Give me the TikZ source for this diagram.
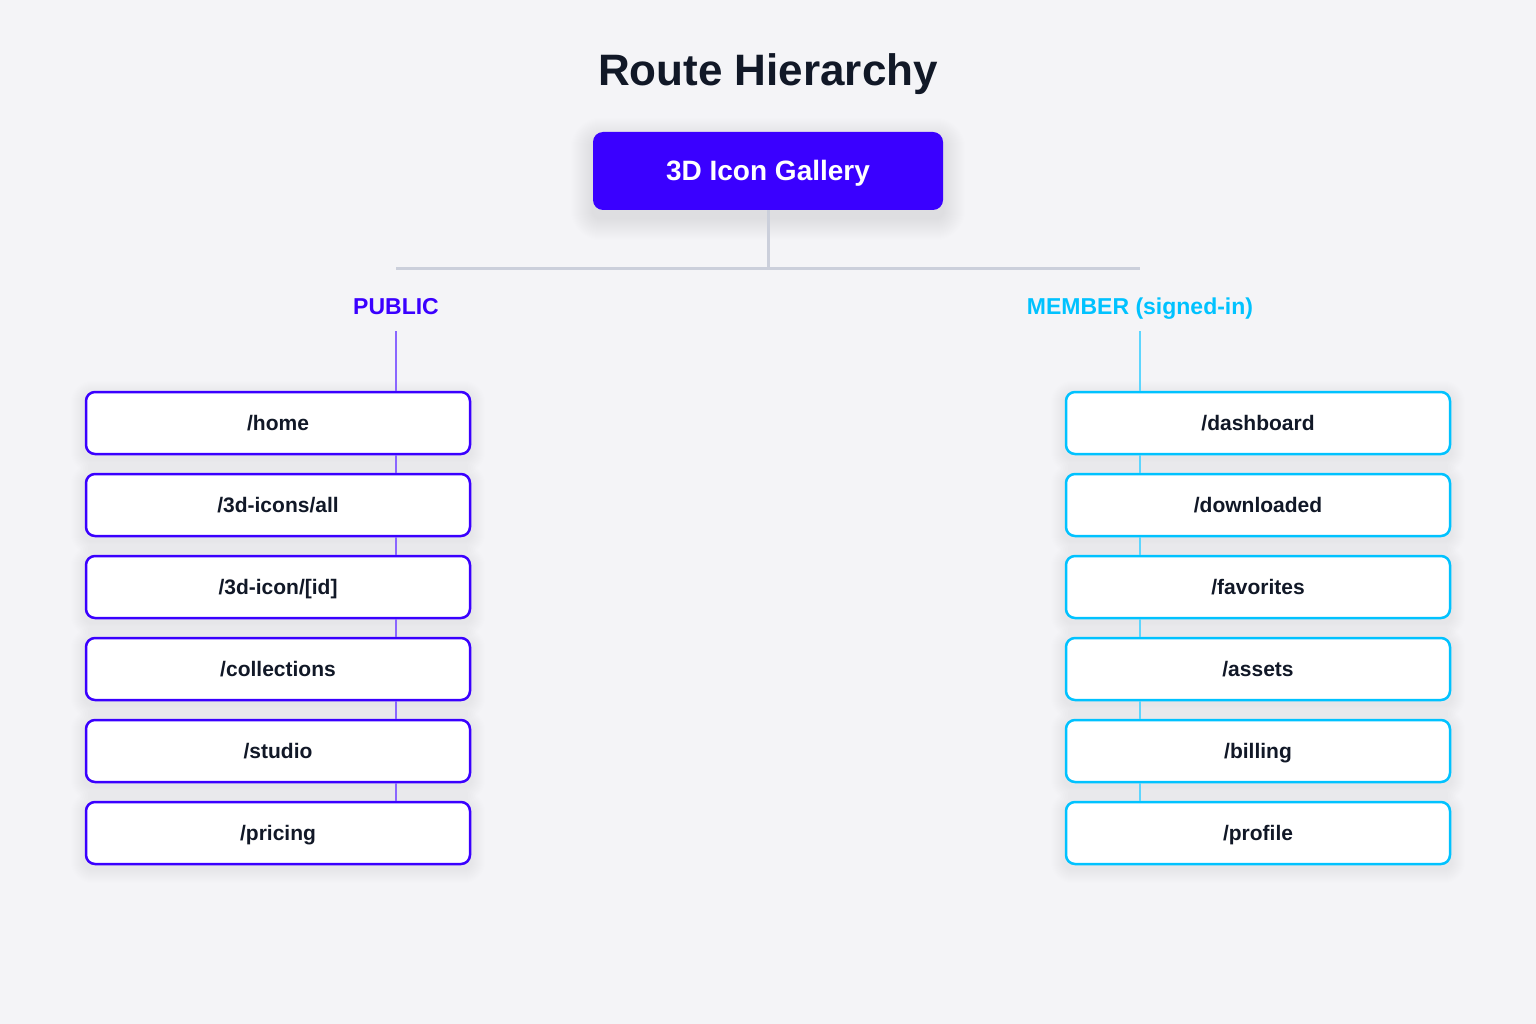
\documentclass[tikz,border=0pt]{standalone}
\usepackage{fontspec}
\setmainfont{Liberation Sans}
\usetikzlibrary{backgrounds}
\pgfdeclarelayer{bottom}
\pgfsetlayers{bottom,background,main}
\definecolor{bgc}{HTML}{F4F4F7}
\definecolor{pub}{HTML}{3A00FF}
\definecolor{publ}{HTML}{8A66FF}
\definecolor{mem}{HTML}{00C2FF}
\definecolor{meml}{HTML}{5CD6FF}
\definecolor{ink}{HTML}{111827}
\definecolor{trunk}{HTML}{CBCFDB}
\tikzset{
  x=1pt, y=1pt,
  rootbox/.style={fill=pub, rounded corners=10pt, minimum width=350pt, minimum height=78pt,
    text=white, font=\bfseries\fontsize{28}{32}\selectfont, text height=25.3pt, text depth=5.9pt},
  route/.style={fill=white, draw=#1, line width=2.5pt, rounded corners=9pt,
    minimum width=384pt, minimum height=62pt, text=ink, font=\bfseries\fontsize{21}{25}\selectfont,
    text height=19pt, text depth=4.45pt},
  grouplabel/.style={text=#1, font=\bfseries\fontsize{23}{27}\selectfont, text height=20.8pt, text depth=4.9pt},
  trunkline/.style={draw=trunk, line width=3pt},
  link/.style={draw=#1, line width=2pt},
  shadowlayer/.style={fill=black, fill opacity=0.0045, draw=none},
}
\newcommand{\softshadow}[3]{% node, steps, yshift
  \foreach \k in {1,...,#2}{
    \fill[shadowlayer, rounded corners={8pt+\k pt}]
      ([xshift=-\k pt, yshift={-\k pt-#3}]#1.south west) rectangle ([xshift=\k pt, yshift={\k pt-#3}]#1.north east);
  }
}
\begin{document}
\begin{tikzpicture}
\begin{pgfonlayer}{bottom}
\fill[bgc] (0,0) rectangle (1536,-1024);
\end{pgfonlayer}
\useasboundingbox (0,0) rectangle (1536,-1024);

\node[text=ink, font=\bfseries\fontsize{44}{52}\selectfont, text height=39.8pt, text depth=9.3pt] (title) at (768,-70) {Route Hierarchy};

\node[rootbox] (root) at (768,-171) {3D Icon Gallery};

\coordinate (j) at (768,-269);
\coordinate (jl) at (396,-269);
\coordinate (jr) at (1140,-269);

\node[grouplabel=pub] (public) at (396,-307) {PUBLIC};
\node[grouplabel=mem] (member) at (1140,-307) {MEMBER (signed-in)};

\coordinate (pubtop) at (396,-331);
\coordinate (memtop) at (1140,-331);

\foreach \i/\t in {1/{/home},2/{/3d-icons/all},3/{/3d-icon/[id]},4/{/collections},5/{/studio},6/{/pricing}}{
  \node[route=pub] (p\i) at (278,{-423-82*(\i-1)}) {\t};
}
\foreach \i/\t in {1/{/dashboard},2/{/downloaded},3/{/favorites},4/{/assets},5/{/billing},6/{/profile}}{
  \node[route=mem] (m\i) at (1258,{-423-82*(\i-1)}) {\t};
}

\begin{pgfonlayer}{background}
\softshadow{root}{22}{8pt}
\foreach \i in {1,...,6}{
  \softshadow{p\i}{14}{4pt}
  \softshadow{m\i}{14}{4pt}
}
\draw[trunkline] (root.south) -- (j);
\draw[trunkline] (jl) -- (jr);
\end{pgfonlayer}

\draw[link=publ] (pubtop) -- (pubtop |- p1.north);
\draw[link=meml] (memtop) -- (memtop |- m1.north);
\foreach \a/\b in {1/2,2/3,3/4,4/5,5/6}{
  \draw[link=publ] (pubtop |- p\a.south) -- (pubtop |- p\b.north);
  \draw[link=meml] (memtop |- m\a.south) -- (memtop |- m\b.north);
}
\end{tikzpicture}
\end{document}
